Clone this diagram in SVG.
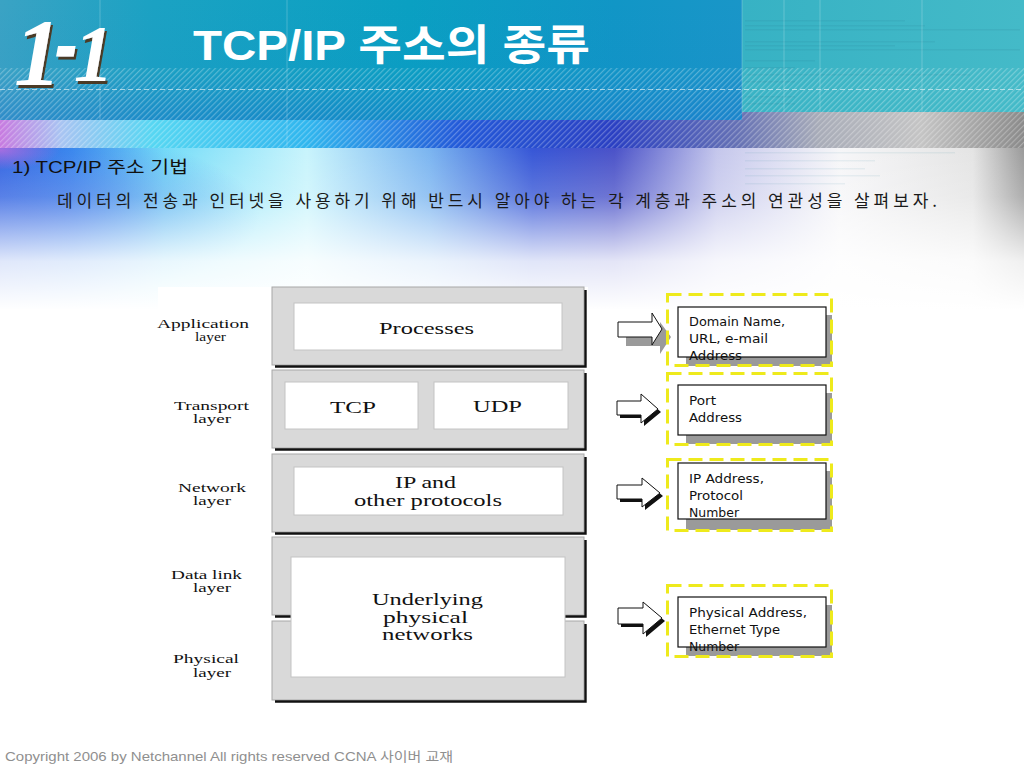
<svg xmlns="http://www.w3.org/2000/svg" width="1024" height="768" viewBox="0 0 1024 768">
<defs>
<linearGradient id="hdr" x1="0" y1="0" x2="1" y2="0">
<stop offset="0" stop-color="#3aa3c4"/>
<stop offset="0.15" stop-color="#1ba2c3"/>
<stop offset="0.4" stop-color="#0aa0c2"/>
<stop offset="0.6" stop-color="#1196c6"/>
<stop offset="0.73" stop-color="#1a96c8"/>
<stop offset="1" stop-color="#1a96c8"/>
</linearGradient>
<linearGradient id="hdrV" x1="0" y1="0" x2="0" y2="1">
<stop offset="0" stop-color="#1a60d0" stop-opacity="0"/>
<stop offset="0.6" stop-color="#1a60d0" stop-opacity="0.05"/>
<stop offset="1" stop-color="#1a60d0" stop-opacity="0.35"/>
</linearGradient>
<linearGradient id="hdrR" x1="0" y1="0" x2="1" y2="0">
<stop offset="0" stop-color="#37b2c4"/>
<stop offset="1" stop-color="#44bac8"/>
</linearGradient>
<linearGradient id="band" x1="0" y1="0" x2="1024" y2="0" gradientUnits="userSpaceOnUse">
<stop offset="0" stop-color="#c77ae0"/>
<stop offset="0.06" stop-color="#a8c4f2"/>
<stop offset="0.15" stop-color="#55d6f2"/>
<stop offset="0.3" stop-color="#2fb6ee"/>
<stop offset="0.45" stop-color="#2258d8"/>
<stop offset="0.6" stop-color="#2a3fc2"/>
<stop offset="0.72" stop-color="#6470b4"/>
<stop offset="0.8" stop-color="#a8acb8"/>
<stop offset="0.9" stop-color="#c4c4c4"/>
<stop offset="1" stop-color="#8a8a8a"/>
</linearGradient>
<pattern id="stripes" width="4" height="4" patternUnits="userSpaceOnUse" patternTransform="rotate(45)">
<rect width="1.2" height="4" fill="#ffffff" opacity="0.28"/>
</pattern>
<linearGradient id="glowH" x1="0" y1="0" x2="1" y2="0">
<stop offset="0" stop-color="#2f64e2"/>
<stop offset="0.07" stop-color="#3c8ef0"/>
<stop offset="0.16" stop-color="#74dcf8"/>
<stop offset="0.3" stop-color="#c8f4fc"/>
<stop offset="0.42" stop-color="#7ab4f0"/>
<stop offset="0.52" stop-color="#3656d6"/>
<stop offset="0.6" stop-color="#4a52c8"/>
<stop offset="0.7" stop-color="#c4c6ec"/>
<stop offset="0.82" stop-color="#f6f6f8"/>
<stop offset="0.95" stop-color="#e4e4e4"/>
<stop offset="1" stop-color="#9a9a9a"/>
</linearGradient>
<linearGradient id="fadeV" x1="0" y1="0" x2="0" y2="1">
<stop offset="0" stop-color="#ffffff" stop-opacity="0"/>
<stop offset="0.3" stop-color="#ffffff" stop-opacity="0.2"/>
<stop offset="0.7" stop-color="#ffffff" stop-opacity="0.85"/>
<stop offset="1" stop-color="#ffffff" stop-opacity="1"/>
</linearGradient>
<radialGradient id="blueL" cx="0.5" cy="0.5" r="0.5">
<stop offset="0" stop-color="#2f5ee0" stop-opacity="0.7"/>
<stop offset="1" stop-color="#2f5ee0" stop-opacity="0"/>
</radialGradient>
<radialGradient id="pinkL" cx="0.5" cy="0.5" r="0.5">
<stop offset="0" stop-color="#c070e0" stop-opacity="0.8"/>
<stop offset="1" stop-color="#c070e0" stop-opacity="0"/>
</radialGradient>
<filter id="logoShadow" x="-20%" y="-20%" width="140%" height="140%">
<feDropShadow dx="2" dy="3" stdDeviation="0.4" flood-color="#4b3a26" flood-opacity="1"/>
</filter>
<style>
.lbl{font-family:"Liberation Serif","Times New Roman",serif;font-size:13.5px;fill:#111}
.in{font-family:"Liberation Serif","Times New Roman",serif;font-size:17px;fill:#111}
.layer{fill:#d9d9d9;stroke:#a8a8a8;stroke-width:1}
.shade{fill:none;stroke:#111;stroke-width:2.4}
.inner{fill:#ffffff;stroke:#c4c4c4;stroke-width:1}
.ybox{fill:none;stroke:#eeea1c;stroke-width:3;stroke-dasharray:14 7}
.abox{fill:#ffffff;stroke:#111;stroke-width:1.2}
.ashd{fill:#9a9a9a}
.atx{font-family:"DejaVu Sans","Noto Sans",sans-serif;font-size:12.5px;fill:#111}
.arw{fill:#ffffff;stroke:#111;stroke-width:1}
.faint{fill:#2a7f92;opacity:0.14}
.vl{stroke:#ffffff;stroke-opacity:0.22;stroke-width:1}
</style>
</defs>

<!-- background -->
<rect x="0" y="0" width="1024" height="768" fill="#ffffff"/>
<rect x="0" y="148" width="1024" height="162" fill="url(#glowH)"/>
<ellipse cx="30" cy="215" rx="230" ry="85" fill="url(#blueL)"/>
<rect x="0" y="148" width="1024" height="162" fill="url(#fadeV)"/>
<ellipse cx="0" cy="150" rx="60" ry="20" fill="url(#pinkL)"/>
<g id="faint-lower" opacity="0.6">
<rect class="faint" x="745" y="152" width="210" height="1.5"/>
<rect class="faint" x="745" y="160" width="130" height="1.5"/>
<rect class="faint" x="745" y="168" width="120" height="1.5"/>
<rect class="faint" x="745" y="175" width="135" height="1.5"/>
<rect class="faint" x="745" y="183" width="100" height="1.5"/>
</g>

<!-- header -->
<rect x="0" y="0" width="1024" height="120" fill="url(#hdr)"/>
<rect x="0" y="0" width="742" height="120" fill="url(#hdrV)"/>
<rect x="742" y="0" width="282" height="112" fill="url(#hdrR)"/>
<g id="faint-header">
<rect class="faint" x="745" y="20" width="160" height="1.5"/>
<rect class="faint" x="745" y="25" width="180" height="1.5"/>
<rect class="faint" x="745" y="29" width="275" height="1.5"/>
<rect class="faint" x="745" y="41" width="190" height="1.5"/>
<rect class="faint" x="745" y="45" width="150" height="1.5"/>
<rect class="faint" x="745" y="49" width="275" height="1.5"/>
<rect class="faint" x="745" y="60" width="70" height="1.5"/>
<rect class="faint" x="745" y="67" width="50" height="1.5"/>
<rect class="faint" x="745" y="74" width="225" height="1.5"/>
<rect class="faint" x="745" y="81" width="50" height="1.5"/>
<rect class="faint" x="745" y="96" width="50" height="1.5"/>
<rect class="faint" x="745" y="103" width="50" height="1.5"/>
</g>
<rect x="0" y="120" width="1024" height="28" fill="url(#band)"/>
<rect x="742" y="112" width="282" height="8" fill="url(#band)"/>
<rect x="0" y="68" width="1024" height="80" fill="url(#stripes)"/>
<line x1="0" y1="89.5" x2="1024" y2="89.5" stroke="#d8eef4" stroke-opacity="0.7" stroke-width="1" stroke-dasharray="5 3"/>
<line class="vl" x1="100" y1="0" x2="100" y2="120"/>
<line class="vl" x1="287" y1="0" x2="287" y2="148"/>
<line class="vl" x1="742" y1="0" x2="742" y2="112"/>
<line class="vl" x1="784" y1="0" x2="784" y2="112"/>
<line class="vl" x1="820" y1="0" x2="820" y2="112"/>
<line class="vl" x1="922" y1="0" x2="922" y2="112"/>

<!-- logo -->
<g id="logo" filter="url(#logoShadow)">
<text x="14" y="85" font-family="Liberation Serif, Times New Roman, serif" font-weight="bold" font-style="italic" fill="#ffffff"><tspan font-size="95">1</tspan><tspan font-size="40" dx="-2" dy="-24" stroke="#ffffff" stroke-width="7">-</tspan><tspan font-size="80" dx="1" dy="20">1</tspan></text>
</g>

<!-- titles -->
<text id="title" x="193" y="60" font-family="Liberation Sans, Noto Sans CJK KR, sans-serif" font-weight="bold" font-size="42" fill="#ffffff" textLength="397" lengthAdjust="spacingAndGlyphs">TCP/IP 주소의 종류</text>
<text id="heading" x="12" y="173" font-family="Liberation Sans, Noto Sans CJK KR, sans-serif" font-size="17" fill="#111111" textLength="176" lengthAdjust="spacingAndGlyphs">1) TCP/IP 주소 기법</text>
<text id="subtitle" x="57" y="207" font-family="Noto Sans CJK KR, sans-serif" font-size="17" fill="#1a1a1a" textLength="880" lengthAdjust="spacing">데이터의 전송과 인터넷을 사용하기 위해 반드시 알아야 하는 각 계층과 주소의 연관성을 살펴보자.</text>

<!-- diagram background -->
<rect x="158" y="287" width="430" height="420" fill="#ffffff"/>

<!-- layers -->
<g id="application-layer">
<rect class="layer" x="272" y="287" width="312" height="78"/>
<path class="shade" d="M585.5,290 V366.5 H275"/>
<rect class="inner" x="294" y="303" width="268" height="47"/>
<text class="in" x="379" y="334" textLength="95" lengthAdjust="spacingAndGlyphs">Processes</text>
<text class="lbl" x="157" y="328" textLength="92" lengthAdjust="spacingAndGlyphs">Application</text>
<text class="lbl" x="195" y="341" textLength="31" lengthAdjust="spacingAndGlyphs">layer</text>
</g>
<g id="transport-layer">
<rect class="layer" x="272" y="370" width="312" height="78"/>
<path class="shade" d="M585.5,373 V449.5 H275"/>
<rect class="inner" x="285" y="382" width="133" height="47"/>
<rect class="inner" x="434" y="382" width="134" height="47"/>
<text class="in" x="330" y="413" textLength="46" lengthAdjust="spacingAndGlyphs">TCP</text>
<text class="in" x="473" y="412" textLength="49" lengthAdjust="spacingAndGlyphs">UDP</text>
<text class="lbl" x="174" y="410" textLength="75" lengthAdjust="spacingAndGlyphs">Transport</text>
<text class="lbl" x="193" y="423" textLength="38" lengthAdjust="spacingAndGlyphs">layer</text>
</g>
<g id="network-layer">
<rect class="layer" x="272" y="454" width="312" height="78"/>
<path class="shade" d="M585.5,457 V533.5 H275"/>
<rect class="inner" x="294" y="467" width="269" height="48"/>
<text class="in" x="395" y="488" textLength="61" lengthAdjust="spacingAndGlyphs">IP and</text>
<text class="in" x="354" y="506" textLength="148" lengthAdjust="spacingAndGlyphs">other protocols</text>
<text class="lbl" x="178" y="492" textLength="68" lengthAdjust="spacingAndGlyphs">Network</text>
<text class="lbl" x="193" y="505" textLength="38" lengthAdjust="spacingAndGlyphs">layer</text>
</g>
<g id="datalink-layer">
<rect class="layer" x="272" y="537" width="312" height="78"/>
<path class="shade" d="M585.5,540 V616.5 H275"/>
<text class="lbl" x="171" y="579" textLength="71" lengthAdjust="spacingAndGlyphs">Data link</text>
<text class="lbl" x="193" y="592" textLength="38" lengthAdjust="spacingAndGlyphs">layer</text>
</g>
<g id="physical-layer">
<rect class="layer" x="272" y="621" width="312" height="79"/>
<path class="shade" d="M585.5,624 V701.5 H275"/>
<text class="lbl" x="173" y="663" textLength="66" lengthAdjust="spacingAndGlyphs">Physical</text>
<text class="lbl" x="193" y="677" textLength="38" lengthAdjust="spacingAndGlyphs">layer</text>
</g>
<g id="underlying-networks">
<rect class="inner" x="291" y="557" width="274" height="120"/>
<text class="in" x="372" y="605" textLength="111" lengthAdjust="spacingAndGlyphs">Underlying</text>
<text class="in" x="383" y="623" textLength="85" lengthAdjust="spacingAndGlyphs">physical</text>
<text class="in" x="382" y="640" textLength="91" lengthAdjust="spacingAndGlyphs">networks</text>
</g>

<!-- connectors (block arrows) -->
<g id="connectors">
<polygon fill="#9a9a9a" points="626,331 660,331 660,322 671,337 660,354 660,346 626,346"/>
<polygon class="arw" points="618,322 652,322 652,313 662,329 652,345 652,337 618,337"/>
<polygon fill="#111" points="620,404 644,404 644,397 661,412 644,426 644,418 620,418"/>
<polygon class="arw" points="617,401 641,401 641,394 658,409 641,423 641,415 617,415"/>
<polygon fill="#111" points="620,488 645,488 645,481 663,496 645,510 645,502 620,502"/>
<polygon class="arw" points="617,485 642,485 642,478 660,493 642,507 642,499 617,499"/>
<polygon fill="#111" points="621,611 646,611 646,605 665,621 646,637 646,627 621,627"/>
<polygon class="arw" points="618,608 643,608 643,602 662,618 643,634 643,624 618,624"/>
</g>

<!-- address boxes -->
<g id="app-address">
<rect class="ashd" x="686" y="315" width="146" height="51"/>
<rect class="abox" x="678" y="307" width="148" height="50"/>
<text class="atx" x="689" y="326" textLength="96" lengthAdjust="spacingAndGlyphs">Domain Name,</text>
<text class="atx" x="689" y="343" textLength="79" lengthAdjust="spacingAndGlyphs">URL, e-mail</text>
<text class="atx" x="689" y="360" textLength="53" lengthAdjust="spacingAndGlyphs">Address</text>
<rect class="ybox" x="667.5" y="294.5" width="164" height="71"/>
</g>
<g id="port-address">
<rect class="ashd" x="686" y="393" width="146" height="51"/>
<rect class="abox" x="678" y="385" width="148" height="50"/>
<text class="atx" x="689" y="405" textLength="27" lengthAdjust="spacingAndGlyphs">Port</text>
<text class="atx" x="689" y="422" textLength="53" lengthAdjust="spacingAndGlyphs">Address</text>
<rect class="ybox" x="667.5" y="373.5" width="164" height="71"/>
</g>
<g id="ip-address">
<rect class="ashd" x="686" y="471" width="146" height="59"/>
<rect class="abox" x="678" y="463" width="148" height="56"/>
<text class="atx" x="689" y="483" textLength="75" lengthAdjust="spacingAndGlyphs">IP Address,</text>
<text class="atx" x="689" y="500" textLength="54" lengthAdjust="spacingAndGlyphs">Protocol</text>
<text class="atx" x="689" y="517" textLength="50" lengthAdjust="spacingAndGlyphs">Number</text>
<rect class="ybox" x="667.5" y="459.5" width="164" height="71"/>
</g>
<g id="physical-address">
<rect class="ashd" x="686" y="605" width="146" height="51"/>
<rect class="abox" x="678" y="597" width="148" height="50"/>
<text class="atx" x="689" y="617" textLength="118" lengthAdjust="spacingAndGlyphs">Physical Address,</text>
<text class="atx" x="689" y="634" textLength="91" lengthAdjust="spacingAndGlyphs">Ethernet Type</text>
<text class="atx" x="689" y="651" textLength="50" lengthAdjust="spacingAndGlyphs">Number</text>
<rect class="ybox" x="667.5" y="585.5" width="164" height="71"/>
</g>

<!-- footer -->
<text id="footer" x="5" y="761" font-family="Liberation Sans, Noto Sans CJK KR, sans-serif" font-size="13" fill="#8f8f8f" textLength="448" lengthAdjust="spacingAndGlyphs">Copyright 2006 by Netchannel All rights reserved CCNA 사이버 교재</text>
</svg>
